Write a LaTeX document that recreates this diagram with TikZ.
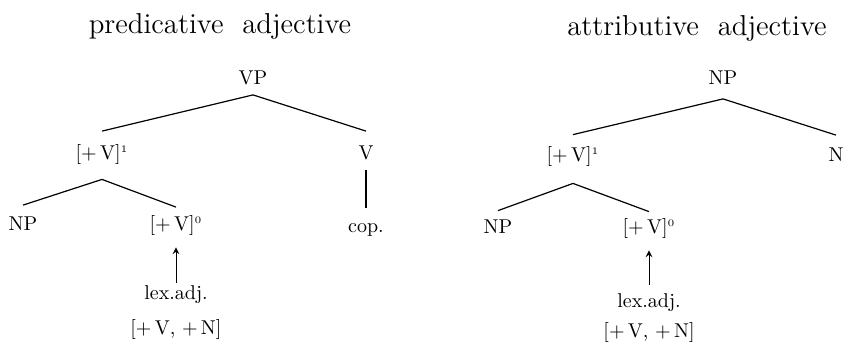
\documentclass[tikz,border=0pt]{standalone}
\begin{document}
\begin{tikzpicture}[x=0.5pt,y=-0.5pt,
  lbl/.style={inner sep=2.5pt,text height=7pt,text depth=2.5pt,font=\fontsize{10}{12}\selectfont},
  ttl/.style={inner sep=0pt,font=\Large},
  branch/.style={line width=0.6pt},
  lexarrow/.style={line width=0.5pt,-stealth,shorten >=0pt}]
\useasboundingbox (0,0) rectangle (845,345);
% titles
\node[ttl] (titleA) at (220,26) {predicative~~adjective};
\node[ttl] (titleB) at (697,28) {attributive~~adjective};
% predicative tree
\node[lbl] (vpA)   at (253,80)  {VP};
\node[lbl] (adjA)  at (102,155) {[+\,V]$^{\scriptscriptstyle 1}$};
\node[lbl] (vA)    at (366,155) {V};
\node[lbl] (npA)   at (23,226)  {NP};
\node[lbl] (adjB)  at (176,226) {[+\,V]$^{\scriptscriptstyle 0}$};
\node[lbl] (copA)  at (366,228) {cop.};
\node[lbl] (lexA)  at (176,295) {lex.adj.};
\node[lbl] (featA) at (176,330) {[+\,V, +\,N]};
% attributive tree
\node[lbl] (npC)   at (723,80)  {NP};
\node[lbl] (adjC)  at (573,157) {[+\,V]$^{\scriptscriptstyle 1}$};
\node[lbl] (nC)    at (836,157) {N};
\node[lbl] (npD)   at (498,229) {NP};
\node[lbl] (adjD)  at (649,229) {[+\,V]$^{\scriptscriptstyle 0}$};
\node[lbl] (lexB)  at (649,303) {lex.adj.};
\node[lbl] (featB) at (649,333) {[+\,V, +\,N]};
% branches, predicative
\draw[branch] (vpA.south) -- ([yshift=4.5pt]adjA.north);
\draw[branch] (vpA.south) -- ([yshift=4.5pt]vA.north);
\draw[branch] ([yshift=-4.75pt]adjA.south) -- ([yshift=3pt]npA.north);
\draw[branch] ([yshift=-4.75pt]adjA.south) -- ([yshift=2pt]adjB.north);
\draw[branch] (vA.south) -- ([yshift=2.5pt]copA.north);
\draw[lexarrow] ([yshift=-1.25pt]lexA.north) -- ([yshift=-3.25pt]adjB.south);
% branches, attributive
\draw[branch] ([yshift=-2pt]npC.south) -- ([yshift=3.75pt]adjC.north);
\draw[branch] ([yshift=-2pt]npC.south) -- ([yshift=3.5pt]nC.north);
\draw[branch] ([yshift=-5.75pt]adjC.south) -- ([yshift=1.75pt]npD.north);
\draw[branch] ([yshift=-5.75pt]adjC.south) -- ([yshift=1.25pt]adjD.north);
\draw[lexarrow] ([yshift=1.75pt]lexB.north) -- ([yshift=-3.25pt]adjD.south);
\end{tikzpicture}
\end{document}
